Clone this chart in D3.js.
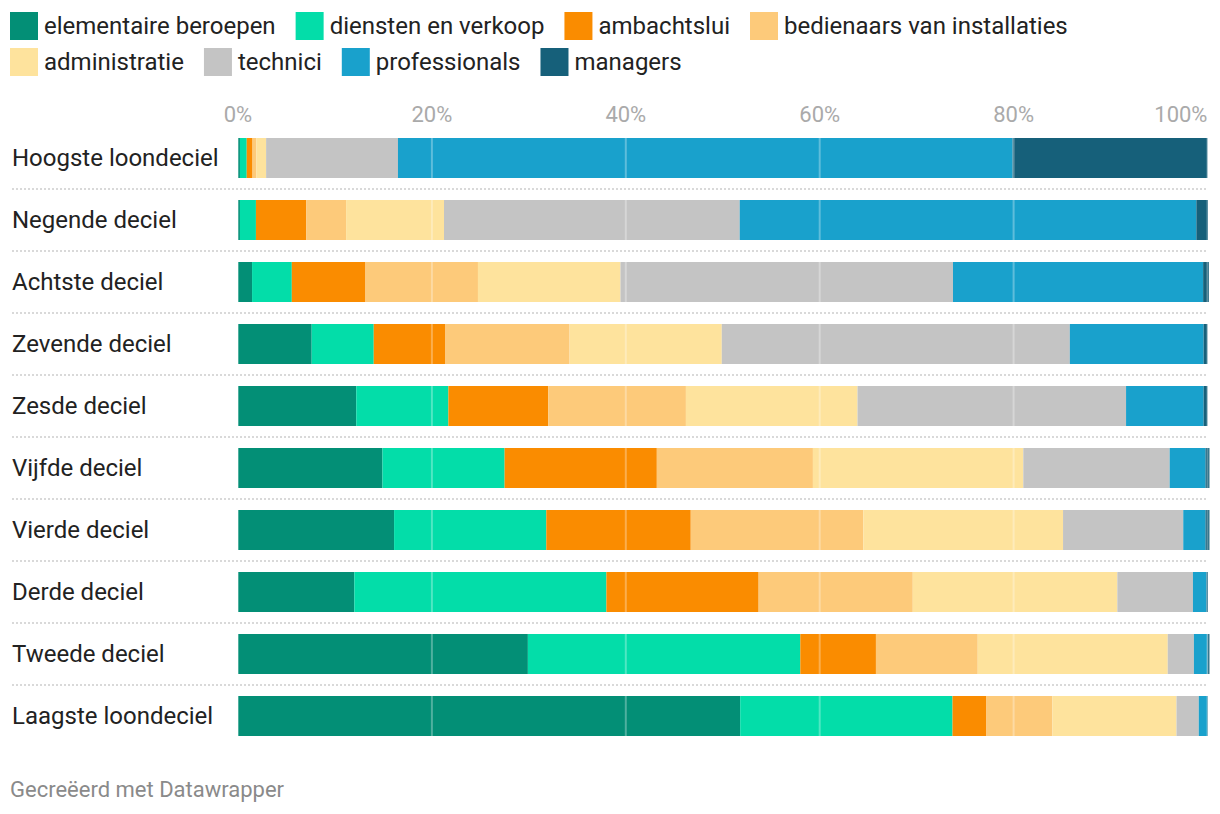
<!DOCTYPE html>
<html>
<head>
<meta charset="utf-8">
<script src="https://cdn.jsdelivr.net/npm/d3@7"></script>
<style>
  html, body { margin: 0; padding: 0; background: #fff; }
  svg { display: block; font-family: Roboto, "Noto Sans", sans-serif; }
</style>
</head>
<body>
<svg id="chart" width="1220" height="814"></svg>
<script>
const categories = [
  "Hoogste loondeciel", "Negende deciel", "Achtste deciel", "Zevende deciel",
  "Zesde deciel", "Vijfde deciel", "Vierde deciel", "Derde deciel",
  "Tweede deciel", "Laagste loondeciel"
];
const seriesNames = [
  "elementaire beroepen", "diensten en verkoop", "ambachtslui",
  "bedienaars van installaties", "administratie", "technici",
  "professionals", "managers"
];
const seriesColors = [
  "#038f76", "#03dda9", "#fa8c00", "#fdca7a",
  "#fee39d", "#c4c4c4", "#19a1cc", "#16607a"
];
// values per category (percent), in series order
const elementaire   = [0.2, 0.2, 1.45, 7.6, 12.2, 14.9, 16.1, 12.0, 29.9, 51.8];
const diensten      = [0.7, 1.65, 4.1, 6.4, 9.5, 12.6, 15.7, 26.0, 28.1, 21.9];
const ambachtslui   = [0.6, 5.2, 7.6, 7.4, 10.3, 15.7, 14.9, 15.7, 7.8, 3.5];
const bedienaars    = [0.4, 4.1, 11.6, 12.8, 14.2, 16.1, 17.8, 15.9, 10.5, 6.8];
const administratie = [1.0, 10.1, 14.7, 15.7, 17.7, 21.7, 20.6, 21.1, 19.6, 12.8];
const technici      = [13.6, 30.5, 34.3, 35.9, 27.7, 15.1, 12.4, 7.8, 2.7, 2.3];
const professionals = [63.4, 47.1, 25.8, 13.8, 8.0, 3.7, 2.3, 1.4, 1.4, 0.9];
const managers      = [20.1, 1.2, 0.6, 0.4, 0.4, 0.4, 0.4, 0.15, 0.2, 0.05];
const tickValues = [0, 20, 40, 60, 80, 100];
const tickLabels = ["0%", "20%", "40%", "60%", "80%", "100%"];
const footerText = "Gecreëerd met Datawrapper";

const seriesValues = [elementaire, diensten, ambachtslui, bedienaars,
  administratie, technici, professionals, managers];

const rows = categories.map((c, i) => {
  const r = { cat: c };
  seriesNames.forEach((s, j) => r[s] = seriesValues[j][i]);
  return r;
});

const svg = d3.select("#chart");

// Legend
const legend = svg.append("g");
const items = legend.selectAll("g").data(seriesNames).join("g");
items.append("rect").attr("width", 28).attr("height", 28).attr("fill", (d, i) => seriesColors[i]);
items.append("text").attr("x", 34).attr("y", 14).attr("dy", "0.35em")
  .attr("font-size", 24).attr("fill", "#222").text(d => d);
(function flow() {
  let x = 10, row = 0;
  items.each(function(d, i) {
    if (i === 4) { x = 10; row = 1; }
    d3.select(this).attr("transform", `translate(${x},${row === 0 ? 12 : 48})`);
    const w = d3.select(this).select("text").node().getComputedTextLength();
    x += 34 + w + 20;
  });
})();

const x0 = 238, x1 = 1207.5;
const x = d3.scaleLinear().domain([0, 100]).range([x0, x1]);
const y = d3.scaleBand().domain(categories).range([127, 747]).paddingInner(0.355).paddingOuter(0.1775);

// Axis tick labels
const axisG = svg.append("g");
tickValues.forEach((t, i) => {
  axisG.append("text")
    .attr("x", x(t))
    .attr("y", 114).attr("dy", "0.35em")
    .attr("text-anchor", i === tickValues.length - 1 ? "end" : "middle")
    .attr("font-size", 22).attr("fill", "#aaaaaa")
    .text(tickLabels[i]);
});

// Separators
const sepG = svg.append("g");
categories.slice(0, -1).forEach((c, i) => {
  const yy = y(c) + y.bandwidth() + (y.step() - y.bandwidth()) / 2;
  sepG.append("line").attr("x1", 12).attr("x2", x1)
    .attr("y1", yy).attr("y2", yy)
    .attr("stroke", "#d9d9d9").attr("stroke-width", 2).attr("stroke-dasharray", "2,2");
});

// Row labels
svg.append("g").selectAll("text").data(categories).join("text")
  .attr("x", 12).attr("y", d => y(d) + y.bandwidth() / 2).attr("dy", "0.35em")
  .attr("font-size", 24).attr("fill", "#222").text(d => d);

// Bars
const stack = d3.stack().keys(seriesNames);
const stacked = stack(rows);
svg.append("g").selectAll("g").data(stacked).join("g")
  .attr("fill", (d, i) => seriesColors[i])
  .selectAll("rect").data(d => d).join("rect")
  .attr("x", d => x(d[0]))
  .attr("width", d => Math.max(0, x(d[1]) - x(d[0])))
  .attr("y", d => y(d.data.cat))
  .attr("height", y.bandwidth());

// Gridlines over bars
const gridG = svg.append("g");
tickValues.forEach(t => {
  categories.forEach(c => {
    gridG.append("line")
      .attr("x1", x(t)).attr("x2", x(t))
      .attr("y1", y(c)).attr("y2", y(c) + y.bandwidth())
      .attr("stroke", "#ffffff").attr("stroke-opacity", 0.3).attr("stroke-width", 2);
  });
});

// Footer
svg.append("text").attr("x", 10).attr("y", 789).attr("dy", "0.35em")
  .attr("font-size", 22).attr("fill", "#8a8a8a").text(footerText);
</script>
</body>
</html>
